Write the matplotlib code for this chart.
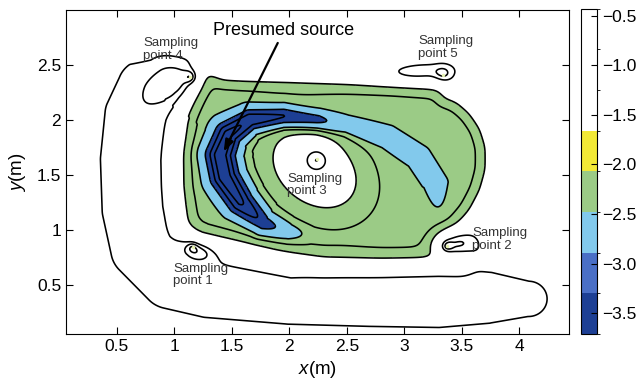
import numpy as np
import matplotlib
matplotlib.use('Agg')
import matplotlib.pyplot as plt
from matplotlib.path import Path
from matplotlib.colors import ListedColormap, BoundaryNorm
from matplotlib.cm import ScalarMappable

plt.rcParams['font.family'] = ['Liberation Sans', 'DejaVu Sans']
plt.rcParams['mathtext.fontset'] = 'custom'
plt.rcParams['mathtext.it'] = 'Liberation Sans:italic'
plt.rcParams['mathtext.rm'] = 'Liberation Sans'
plt.rcParams['contour.negative_linestyle'] = 'solid'

# ---- colour scale (log value) ----
cbar_bounds = [-3.71, -3.30, -2.89, -2.48, -2.07, -1.66, -1.25, -0.84, -0.43]
cbar_colors = ['#1d3f94', '#4a6fc6', '#82c9ec', '#9bcb86', '#f2e936', 'white', 'white', 'white']
fill_colors = ['#1d3f94', '#1d3f94', '#82c9ec', '#9bcb86', 'white', 'white', 'white', 'white']
cbar_ticks = [-3.5, -3, -2.5, -2, -1.5, -1, -0.5]
line_levels = [-3.45, -3.2, -2.89, -2.48, -2.3, -2.07, -1.2, -0.9, -0.6]

# ---- field ----
background = -1.4

# outline of the green basin and its profile across the rim
basin_x = [1.1, 1.17, 1.22, 1.27, 1.33, 1.42, 1.6, 2.0, 2.5, 2.9, 3.3, 3.35, 3.45, 3.57, 3.66, 3.71,
           3.71, 3.66, 3.57, 3.45, 3.32, 3.28, 3.33, 3.5, 3.48, 3.2, 2.8, 2.3, 1.9, 1.5, 1.2, 1.1, 1.06, 1.06]
basin_y = [2.0, 2.2, 2.32, 2.48, 2.42, 2.37, 2.36, 2.35, 2.33, 2.31, 2.28, 2.2, 2.17, 2.06, 1.92, 1.75,
           1.55, 1.36, 1.18, 1.03, 0.93, 0.84, 0.77, 0.75, 0.71, 0.71, 0.71, 0.73, 0.8, 0.9, 0.97, 1.05, 1.4, 1.7]
basin_s = [-0.14, -0.06, 0.0, 0.07, 0.2]
basin_v = [-1.4, -1.75, -2.07, -2.3, -2.4]
basin_blur = 0.035

# spiral trough (presumed source arm)
arm_x = [2.2, 2.0, 1.78, 1.58, 1.44, 1.4, 1.47, 1.66, 1.95, 2.25, 2.5, 2.85, 3.12, 3.27, 3.3]
arm_y = [0.94, 0.98, 1.06, 1.25, 1.48, 1.68, 1.87, 2.0, 2.03, 2.0, 1.95, 1.84, 1.66, 1.42, 1.17]
arm_depth = [0.0, 0.3, 0.7, 1.1, 1.2, 1.2, 1.15, 1.05, 0.95, 0.75, 0.35, 0.32, 0.32, 0.28, 0.05]
arm_width = [0.06, 0.08, 0.1, 0.13, 0.14, 0.14, 0.13, 0.11, 0.095, 0.085, 0.09, 0.1, 0.1, 0.1, 0.07]

# outer hook-shaped ridge
hook_x = [0.9, 0.76, 0.67, 0.63, 0.645, 0.72, 0.97, 1.3, 2.0, 2.7, 3.3, 3.75, 4.08]
hook_y = [2.4, 2.3, 2.05, 1.64, 1.18, 0.82, 0.54, 0.45, 0.35, 0.36, 0.38, 0.38, 0.37]
hook_width = [0.17, 0.25, 0.27, 0.27, 0.27, 0.27, 0.26, 0.25, 0.21, 0.24, 0.27, 0.23, 0.16]
hook_height = 0.4

# central bump round sampling point 3
centre_x, centre_y = 2.22, 1.55
centre_amp = 0.75
centre_sig = (0.446, 0.33)
centre_angle = -42

# sampling points: sharp head + stretched plume
sp_names = ['Sampling\npoint 1', 'Sampling\npoint 2', 'Sampling\npoint 3', 'Sampling\npoint 4', 'Sampling\npoint 5']
sp_x = [1.16, 3.37, 2.24, 1.14, 3.34]
sp_y = [0.84, 0.85, 1.64, 2.39, 2.41]
head_amp = [0.35, 0.45, 0.8, 0.55, 0.45]
head_sig = [0.045, 0.05, 0.12, 0.055, 0.08]
plume_x = [1.2, 3.45, 2.24, 1.0, 3.12]
plume_y = [0.8, 0.86, 1.64, 2.33, 2.43]
plume_amp = [0.6, 0.7, 0.0, 0.45, 0.45]
plume_su = [0.13, 0.17, 0.1, 0.25, 0.28]
plume_sv = [0.08, 0.12, 0.1, 0.15, 0.075]
plume_ang = [-15, 0, 0, 35, 5]
label_x = [0.99, 3.59, 1.98, 0.73, 3.12]
label_y = [0.70, 1.02, 1.52, 2.75, 2.77]

source_text = 'Presumed source'
source_text_xy = (1.95, 2.81)
arrow_tail = (1.9, 2.70)
arrow_head = (1.43, 1.71)


def nearest_on_line(X, Y, px, py):
    best_d = np.full(X.shape, np.inf)
    best_t = np.zeros(X.shape)
    for i in range(len(px) - 1):
        dx, dy = px[i + 1] - px[i], py[i + 1] - py[i]
        u = np.clip(((X - px[i]) * dx + (Y - py[i]) * dy) / (dx * dx + dy * dy), 0, 1)
        d = np.hypot(X - px[i] - u * dx, Y - py[i] - u * dy)
        m = d < best_d
        best_d[m] = d[m]
        best_t[m] = i + u[m]
    return best_d, best_t


def gauss2(X, Y, x0, y0, su, sv, ang):
    a = np.deg2rad(ang)
    u = (X - x0) * np.cos(a) + (Y - y0) * np.sin(a)
    v = -(X - x0) * np.sin(a) + (Y - y0) * np.cos(a)
    return np.exp(-(u / su) ** 2 - (v / sv) ** 2)


def blur(A, n):
    k = np.exp(-0.5 * (np.arange(-3 * n, 3 * n + 1) / n) ** 2)
    k = k / k.sum()
    P = np.pad(A, 3 * n, mode='edge')
    P = np.apply_along_axis(lambda r: np.convolve(r, k, mode='valid'), 1, P)
    P = np.apply_along_axis(lambda r: np.convolve(r, k, mode='valid'), 0, P)
    return P


xs = np.linspace(0.06, 4.43, 440)
ys = np.linspace(0.05, 3.0, 300)
X, Y = np.meshgrid(xs, ys)
step = xs[1] - xs[0]

# basin from signed distance to its outline
bx = basin_x + basin_x[:1]
by = basin_y + basin_y[:1]
d_edge, _ = nearest_on_line(X, Y, bx, by)
inside = Path(np.column_stack([bx, by])).contains_points(
    np.column_stack([X.ravel(), Y.ravel()])).reshape(X.shape)
s = np.where(inside, d_edge, -d_edge)
Z = blur(np.interp(s, basin_s, basin_v), int(round(basin_blur / step)))

d_arm, t_arm = nearest_on_line(X, Y, arm_x, arm_y)
dep = np.interp(t_arm, np.arange(len(arm_x)), arm_depth)
wid = np.interp(t_arm, np.arange(len(arm_x)), arm_width)
Z = Z - dep * np.exp(-(d_arm / wid) ** 2)

# ridge half-width given where it crosses the -1.2 line
d_hook, t_hook = nearest_on_line(X, Y, hook_x, hook_y)
hw = np.interp(t_hook, np.arange(len(hook_x)), hook_width) / 0.83
Z = Z + hook_height * np.exp(-(d_hook / hw) ** 2)

Z = Z + centre_amp * gauss2(X, Y, centre_x, centre_y, centre_sig[0], centre_sig[1], centre_angle)

for i in range(len(sp_x)):
    Z = Z + head_amp[i] * gauss2(X, Y, sp_x[i], sp_y[i], head_sig[i], head_sig[i], 0)
    Z = Z + plume_amp[i] * gauss2(X, Y, plume_x[i], plume_y[i], plume_su[i], plume_sv[i], plume_ang[i])

fig = plt.figure(figsize=(6.39, 3.83), dpi=100)
ax = fig.add_axes([0.1033, 0.1279, 0.787, 0.846])
cax = fig.add_axes([0.909, 0.128, 0.025, 0.849])

fill_levels = [Z.min() - 1] + cbar_bounds[1:-1] + [Z.max() + 1]
ax.contourf(X, Y, Z, levels=fill_levels, colors=fill_colors)
ax.contour(X, Y, Z, levels=line_levels, colors='k', linewidths=1.15)
ax.plot(sp_x, sp_y, 'o', ms=2.5, color='#e6f2b0', mec='none')

for i in range(len(sp_x)):
    ax.text(label_x[i], label_y[i], sp_names[i], fontsize=9.5, color='#333333',
            ha='left', va='top', linespacing=1.05)

ax.text(source_text_xy[0], source_text_xy[1], source_text, fontsize=13, ha='center', va='center')
ax.annotate('', xy=arrow_head, xytext=arrow_tail,
            arrowprops=dict(arrowstyle='-|>,head_length=0.7,head_width=0.25', color='k',
                            lw=1.6, shrinkA=0, shrinkB=0))

ax.set_xlim(0.06, 4.43)
ax.set_ylim(0.05, 3.0)
ax.set_xticks([0.5, 1, 1.5, 2, 2.5, 3, 3.5, 4])
ax.set_xticklabels(['0.5', '1', '1.5', '2', '2.5', '3', '3.5', '4'])
ax.set_yticks([0.5, 1, 1.5, 2, 2.5])
ax.set_yticklabels(['0.5', '1', '1.5', '2', '2.5'])
ax.tick_params(direction='in', top=True, right=True, length=5, labelsize=12.5, width=0.8)
ax.set_xlabel(r'$x$(m)', fontsize=13.5, labelpad=4)
ax.set_ylabel(r'$y$(m)', fontsize=13.5, labelpad=6)

sm = ScalarMappable(cmap=ListedColormap(cbar_colors), norm=BoundaryNorm(cbar_bounds, len(cbar_colors)))
cb = fig.colorbar(sm, cax=cax, ticks=cbar_ticks)
cb.ax.tick_params(direction='in', length=4, labelsize=12.5, width=0.8)
cb.outline.set_linewidth(0.8)

fig.savefig('out.png', dpi=100)
